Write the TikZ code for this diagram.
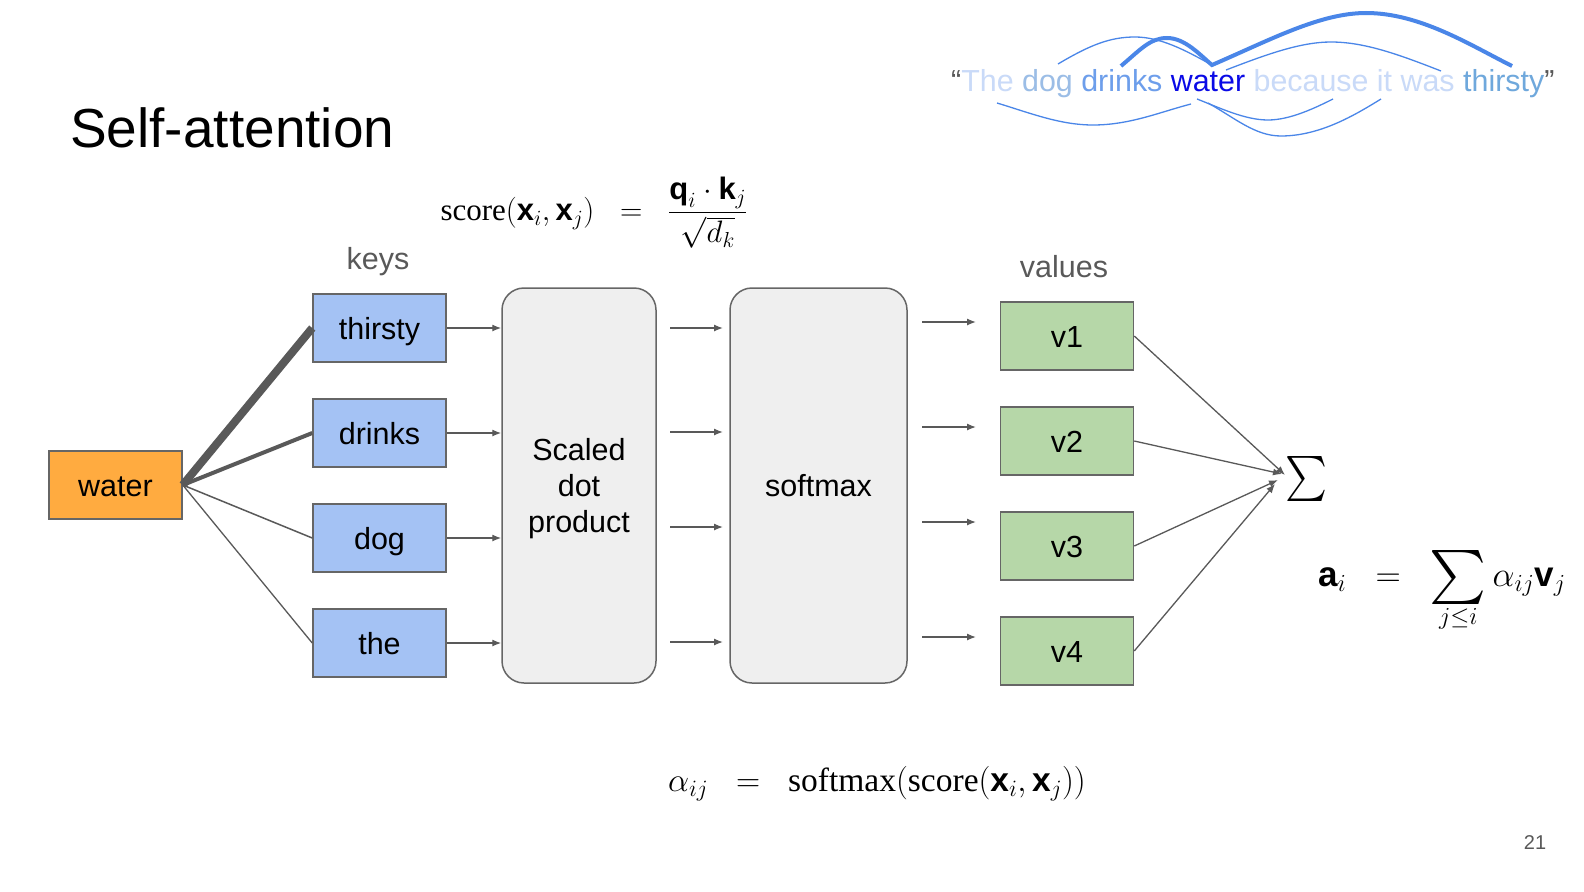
\RequirePackage{fix-cm}
\documentclass[tikz,border=0pt]{standalone}
\usepackage{amsmath}
\usepackage{graphicx}
\usepackage{fontspec}
\newfontfamily\arialf{Liberation Sans}
\newfontfamily\tnrf{Liberation Serif}
\usetikzlibrary{arrows.meta}
\definecolor{keyblue}{HTML}{A4C2F4}
\definecolor{valgreen}{HTML}{B6D7A8}
\definecolor{waterorange}{HTML}{FFAB40}
\definecolor{boxgray}{HTML}{EFEFEF}
\definecolor{edgegray}{HTML}{666666}
\definecolor{linegray}{HTML}{595959}
\definecolor{arcblue}{HTML}{4A86E8}
\definecolor{wlight}{HTML}{C9DAF8}
\definecolor{wdog}{HTML}{9BBDE6}
\definecolor{wdrinks}{HTML}{6D9EEB}
\definecolor{wwater}{HTML}{0A0AE6}
\definecolor{wthirsty}{HTML}{6FA8DC}
\newcommand\bvec[1]{\text{\arialf\bfseries #1}}
\newcommand\opn[1]{\text{\tnrf #1}}
\newcommand\bigsum{\mathop{\vcenter{\hbox{\resizebox*{!}{54pt}{$\textstyle\sum$}}}}\limits}
\begin{document}
\begin{tikzpicture}[x=1pt,y=-1pt,
  sansbig/.style={font=\arialf\fontsize{30.5}{36}\selectfont},
  wordbox/.style={draw=edgegray,line width=1.5pt,minimum width=133pt,minimum height=68pt,inner sep=0pt,sansbig,text=black,text height=25pt,text depth=3pt},
  keybox/.style={wordbox,fill=keyblue},
  valbox/.style={wordbox,fill=valgreen},
  opbox/.style={draw=edgegray,line width=1.5pt,fill=boxgray,rounded corners=22pt,minimum height=395pt,inner sep=0pt},
  optext/.style={sansbig,align=center,inner sep=0pt},
  arr/.style={draw=linegray,line width=1.3pt,-{Latex[length=9pt,width=7pt]}},
  attn/.style={draw=linegray},
  mathf/.style={inner sep=0pt},
  arc/.style={draw=arcblue,line width=1.3pt},
  thickarc/.style={draw=arcblue,line width=4pt,line join=miter}
]
\useasboundingbox (0,0) rectangle (1584,891);
\fill[white] (0,0) rectangle (1584,891);

% title
\node[anchor=base west,inner sep=0pt,font=\arialf\fontsize{55}{60}\selectfont] (title) at (70,147) {Self-attention};

% sentence arcs
\draw[arc] (1058,64) .. controls (1090,45) and (1110,37) .. (1135,37) .. controls (1160,37) and (1185,50) .. (1210,64);
\draw[arc] (1226,70) .. controls (1265,55) and (1300,42) .. (1331,42) .. controls (1365,42) and (1400,55) .. (1441,71);
\draw[arc] (997,103) .. controls (1030,113) and (1060,125) .. (1093,125) .. controls (1130,125) and (1160,112) .. (1191,104);
\draw[arc] (1197,99) .. controls (1220,108) and (1245,120) .. (1268,120) .. controls (1290,120) and (1315,108) .. (1333,99);
\draw[arc] (1208,103) .. controls (1235,118) and (1255,136) .. (1281,136) .. controls (1320,136) and (1355,115) .. (1381,99);
\draw[thickarc] (1121,66) .. controls (1140,50) and (1150,38) .. (1167,38) .. controls (1185,38) and (1200,55) .. (1212,65)
  .. controls (1270,40) and (1320,13) .. (1366,13) .. controls (1420,13) and (1470,45) .. (1512,66);

% sentence
\node[anchor=base west,inner sep=0pt,font=\arialf\fontsize{30.4}{36}\selectfont] (sentence) at (951,92)
  {\textcolor{linegray}{“}\textcolor{wlight}{The} \textcolor{wdog}{dog} \textcolor{wdrinks}{drinks} \textcolor{wwater}{water} \textcolor{wlight}{because it was} \textcolor{wthirsty}{thirsty}\textcolor{linegray}{”}};

% formula 1
\node[mathf,font=\fontsize{31}{37}\selectfont] (f1) at (594,213) {$\opn{score}(\bvec{x}_i,\bvec{x}_j)\;\;=\;\;\dfrac{\bvec{q}_i\cdot\bvec{k}_j}{\sqrt{d_k}}$};

% labels
\node[sansbig,text=linegray] (keys) at (378,262) {keys};
\node[sansbig,text=linegray] (values) at (1064,267) {values};

% water
\node[wordbox,fill=waterorange] (water) at (115.5,485) {water};

% keys
\node[keybox] (k1) at (379.5,328) {thirsty};
\node[keybox] (k2) at (379.5,433) {drinks};
\node[keybox] (k3) at (379.5,538) {dog};
\node[keybox] (k4) at (379.5,643) {the};

% operation boxes
\node[opbox,minimum width=154pt] (sdp) at (579,485.5) {};
\node[optext] (sdpt) at (579,489) {Scaled\\dot\\product};
\node[opbox,minimum width=177pt] (sm) at (818.5,485.5) {};
\node[optext] (smt) at (818.5,486) {softmax};

% values
\node[valbox] (v1) at (1067,336) {v1};
\node[valbox] (v2) at (1067,441) {v2};
\node[valbox] (v3) at (1067,546) {v3};
\node[valbox] (v4) at (1067,651) {v4};

% sum
\node[inner sep=0pt] (sum) at (1306,479) {\resizebox*{42pt}{45pt}{$\textstyle\sum$}};

% attention lines
\draw[attn,line width=8pt] (water.east) -- (k1.west);
\draw[attn,line width=4pt] (water.east) -- (k2.west);
\draw[attn,line width=1.5pt] (water.east) -- (k3.west);
\draw[attn,line width=1.3pt] (water.east) -- (k4.west);

% keys to scaled dot product
\foreach \k in {k1,k2,k3,k4}{\draw[arr] (\k.east) -- (\k.east -| sdp.west);}

% middle arrows
\coordinate (ma1) at (670,328); \coordinate (mb1) at (723,328);
\coordinate (ma2) at (670,432); \coordinate (mb2) at (723,432);
\coordinate (ma3) at (670,527); \coordinate (mb3) at (723,527);
\coordinate (ma4) at (670,642); \coordinate (mb4) at (723,642);
\foreach \i in {1,2,3,4}{\draw[arr] (ma\i) -- (mb\i);}

% after softmax arrows
\coordinate (sa1) at (922,322); \coordinate (sb1) at (976,322);
\coordinate (sa2) at (922,427); \coordinate (sb2) at (976,427);
\coordinate (sa3) at (922,522); \coordinate (sb3) at (976,522);
\coordinate (sa4) at (922,637); \coordinate (sb4) at (976,637);
\foreach \i in {1,2,3,4}{\draw[arr] (sa\i) -- (sb\i);}

% values to sum
\coordinate (e1) at (1285,475);
\coordinate (e2) at (1282,474);
\coordinate (e3) at (1278,480);
\coordinate (e4) at (1275,484);
\draw[arr] (v1.east) -- (e1);
\draw[arr] (v2.east) -- (e2);
\draw[arr] (v3.east) -- (e3);
\draw[arr] (v4.east) -- (e4);

% formula 3
\node[mathf,anchor=base west,font=\fontsize{35}{40}\selectfont] (f3) at (1318,586) {$\bvec{a}_i\;\;=\;\;\bigsum_{j\le i}\alpha_{ij}\bvec{v}_j$};

% formula 2
\node[mathf,font=\fontsize{33.5}{40}\selectfont] (f2) at (877,784) {$\alpha_{ij}\;\;=\;\;\opn{softmax}(\opn{score}(\bvec{x}_i,\bvec{x}_j))$};

% page number
\node[font=\arialf\fontsize{20}{24}\selectfont,text=linegray] (page) at (1535,843) {21};
\end{tikzpicture}
\end{document}
